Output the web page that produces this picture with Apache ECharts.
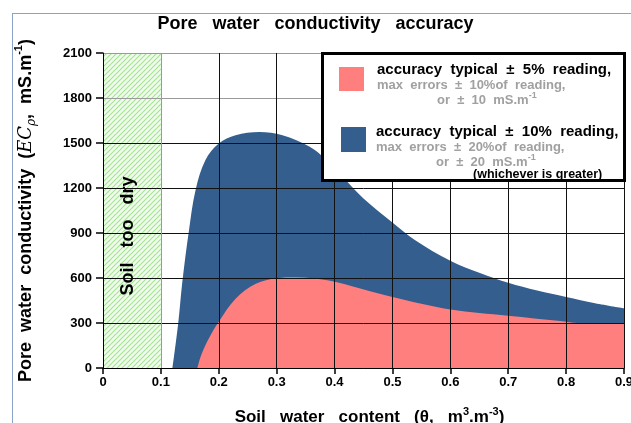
<!DOCTYPE html>
<html><head><meta charset="utf-8">
<script src="https://cdn.jsdelivr.net/npm/echarts@6/dist/echarts.min.js"></script>
<style>html,body{margin:0;padding:0;background:#fff}#c{width:631px;height:423px}</style>
</head><body><div id="c"></div>
<script>
// ---- data ----
const xTickLabels = ['0','0.1','0.2','0.3','0.4','0.5','0.6','0.7','0.8','0.9'];
const yTickLabels = ['0','300','600','900','1200','1500','1800','2100'];
// accuracy typical ±10% (blue) upper boundary
const blueX = [0.12, 0.13, 0.137, 0.148, 0.16, 0.177, 0.2, 0.229, 0.27, 0.31, 0.357, 0.385, 0.42, 0.45, 0.5, 0.54, 0.6, 0.65, 0.7, 0.75, 0.8, 0.85, 0.9];
const blueY = [0, 300, 573, 903, 1189, 1387, 1497, 1552, 1574, 1552, 1475, 1390, 1250, 1130, 970, 850, 715, 635, 568, 516, 473, 432, 398];
// accuracy typical ±5% (pink) upper boundary
const pinkX = [0.163, 0.17, 0.183, 0.2, 0.229, 0.264, 0.3, 0.333, 0.39, 0.446, 0.5, 0.6, 0.7, 0.79, 0.82, 0.9];
const pinkY = [0, 90, 198, 308, 462, 561, 599, 605, 583, 528, 473, 390, 348, 313, 300, 300];
const dryRange = [0, 0.1];
const dryLabel = 'Soil   too   dry';
const dryLabelPos = [0.043, 880];
const yMax = 2100;

// ---- hatch pattern ----
const pc = document.createElement('canvas'); pc.width = 5; pc.height = 5;
const g = pc.getContext('2d');
g.fillStyle = '#f2fcee'; g.fillRect(0, 0, 5, 5);
g.strokeStyle = '#9fe48e'; g.lineWidth = 1.1;
[[-1,6,6,-1],[-1,1,1,-1],[4,6,6,4]].forEach(l => { g.beginPath(); g.moveTo(l[0],l[1]); g.lineTo(l[2],l[3]); g.stroke(); });

const chart = echarts.init(document.getElementById('c'));
const B = {fontFamily: 'Liberation Sans, Arial, sans-serif', fontWeight: 'bold'};
const xLineColors = xTickLabels.map((t, i) => i === 1 ? '#9a9a9a' : '#111');
const yLineColors = yTickLabels.map((t, i) => i >= 6 ? '#9a9a9a' : '#111');
const F = (s) => 'bold ' + s + 'px "Liberation Sans", Arial, sans-serif';

const legendText = (x, y, text, size, color) => ({
  type: 'text', x, y, z: 20,
  style: {text, fill: color, font: F(size), textVerticalAlign: 'middle'}
});
const supText = (x, y, main, sup) => ({
  type: 'text', z: 20, x, y, style: {text: '{g|' + main + '}{s|' + sup + '}', textVerticalAlign: 'middle', rich: {
    g: {fill: '#a0a0a0', font: F(13), lineHeight: 16, verticalAlign: 'bottom'},
    s: {fill: '#a0a0a0', font: F(9), lineHeight: 16, verticalAlign: 'top'}}}
});

chart.setOption({
  animation: false,
  title: {text: 'Pore   water   conductivity   accuracy', left: 'center', top: 10, padding: [5, 0, 5, 10],
    textStyle: Object.assign({fontSize: 18, color: '#000'}, B)},
  grid: {left: 103, right: 7, top: 53, bottom: 55, outerBoundsMode: 'none', containLabel: false},
  xAxis: {type: 'value', min: 0, max: 0.9, interval: 0.1, z: 3,
    axisLine: {lineStyle: {color: '#000', width: 1}},
    axisTick: {length: 6, lineStyle: {color: '#000', width: 1.5}},
    axisLabel: Object.assign({color: '#000', fontSize: 13, margin: 8, formatter: (v, i) => xTickLabels[i]}, B),
    splitLine: {show: true, lineStyle: {color: xLineColors, width: 1}},
    name: '{n|Soil   water   content   (θ,   m}{s|3}{n|.m}{s|-3}{n|)}', nameLocation: 'middle', nameGap: 38,
    nameTextStyle: {padding: [0, 0, 0, 12], rich: {
      n: Object.assign({fontSize: 17, color: '#000', lineHeight: 20, verticalAlign: 'bottom'}, B),
      s: Object.assign({fontSize: 11, color: '#000', lineHeight: 20, verticalAlign: 'top'}, B)}}
  },
  yAxis: {type: 'value', min: 0, max: yMax, interval: 300, z: 3,
    axisLine: {show: true, lineStyle: {color: '#000', width: 1}},
    axisTick: {show: true, length: 7, lineStyle: {color: '#000', width: 1.5}},
    axisLabel: Object.assign({color: '#000', fontSize: 13, margin: 11, formatter: (v, i) => yTickLabels[i]}, B),
    splitLine: {show: true, lineStyle: {color: yLineColors, width: 1}},
    name: '{n|Pore  water  conductivity  (}{i|EC}{sub|ρ}{n|,  mS.m}{s|-1}{n|)}', nameLocation: 'middle', nameGap: 68, nameRotate: 90,
    nameTextStyle: {rich: {
      n: Object.assign({fontSize: 18, color: '#000', lineHeight: 22, verticalAlign: 'bottom'}, B),
      i: {fontSize: 18, color: '#000', fontStyle: 'italic', fontFamily: 'DejaVu Serif, serif', lineHeight: 22, verticalAlign: 'bottom'},
      sub: {fontSize: 12, color: '#000', fontStyle: 'italic', fontFamily: 'DejaVu Serif, serif', lineHeight: 22, verticalAlign: 'bottom', padding: [0,0,-3,0]},
      s: Object.assign({fontSize: 11, color: '#000', lineHeight: 22, verticalAlign: 'top'}, B)}}
  },
  series: [
    {type: 'custom', z: 1, silent: true, data: [dryRange],
      encode: {x: [0, 1]},
      renderItem: (params, api) => {
        const p0 = api.coord([api.value(0), yMax]);
        const p1 = api.coord([api.value(1), 0]);
        return {type: 'rect', shape: {x: p0[0] + 1, y: p0[1], width: p1[0] - p0[0] - 1, height: p1[1] - p0[1]},
          style: {fill: {image: pc, repeat: 'repeat'}}};
      }},
    {name: 'accuracy typical ± 10% reading', type: 'line', z: 2, data: blueX.map((x, i) => [x, blueY[i]]),
      smooth: 0.35, symbol: 'none', lineStyle: {width: 0}, areaStyle: {color: '#345e8e', opacity: 1}},
    {name: 'accuracy typical ± 5% reading', type: 'line', z: 2, data: pinkX.map((x, i) => [x, pinkY[i]]),
      smooth: 0.35, symbol: 'none', lineStyle: {width: 0}, areaStyle: {color: '#ff7f7f', opacity: 1}},
    {type: 'custom', z: 5, silent: true, data: [dryLabelPos],
      renderItem: (params, api) => {
        const p = api.coord([api.value(0), api.value(1)]);
        return {type: 'text', x: p[0], y: p[1], rotation: Math.PI / 2,
          style: {text: dryLabel, fill: '#000', font: F(18), textAlign: 'center', textVerticalAlign: 'middle'}};
      }}
  ],
  graphic: [
    {type: 'line', z: 20, shape: {x1: 12, y1: 13.5, x2: 631, y2: 13.5}, style: {stroke: '#8aa4c8', lineWidth: 1}},
    {type: 'line', z: 20, shape: {x1: 12.5, y1: 13, x2: 12.5, y2: 423}, style: {stroke: '#8aa4c8', lineWidth: 1}},
    {type: 'rect', z: 19, shape: {x: 322.5, y: 53.5, width: 302, height: 127}, style: {fill: '#fff', stroke: '#000', lineWidth: 3}},
    {type: 'rect', z: 20, shape: {x: 339, y: 67, width: 25, height: 24}, style: {fill: '#ff7f7f'}},
    {type: 'rect', z: 20, shape: {x: 341, y: 127, width: 25, height: 25}, style: {fill: '#345e8e'}},
    legendText(377, 70, 'accuracy  typical  ±  5%  reading,', 15, '#000'),
    legendText(377, 85, 'max  errors  ±  10%of  reading,', 13, '#a0a0a0'),
    supText(437, 99, 'or  ±  10  mS.m', '-1'),
    legendText(376, 132, 'accuracy  typical  ±  10%  reading,', 15, '#000'),
    legendText(376, 147, 'max  errors  ±  20%of  reading,', 13, '#a0a0a0'),
    supText(436, 161, 'or  ±  20  mS.m', '-1'),
    legendText(473, 175, '(whichever is greater)', 12.5, '#000')
  ]
});
</script></body></html>
